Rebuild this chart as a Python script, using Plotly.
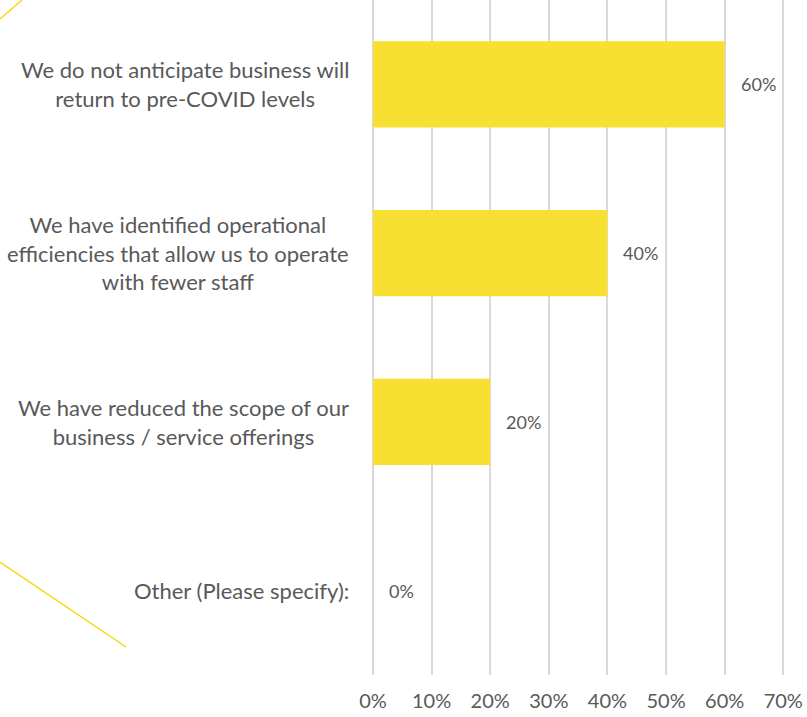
import plotly.graph_objects as go

# Survey responses (share of respondents)
categories = [
    "We do not anticipate business will<br>return to pre-COVID levels",
    "We have identified operational<br>efficiencies that allow us to operate<br>with fewer staff",
    "We have reduced the scope of our<br>business / service offerings",
    "Other (Please specify):",
]
values = [0.60, 0.40, 0.20, 0.00]

W, H = 807, 717
M_L, M_R, M_T, M_B = 373, 12, 0, 42
X_MAX = 0.72
GREY = "#595959"
BAR = "#F8E032"
GRID = "#D9D9D9"
FONT = "Lato"

fig = go.Figure(
    go.Bar(
        x=values,
        y=categories,
        orientation="h",
        marker=dict(color=BAR, line=dict(width=0)),
        hoverinfo="skip",
    )
)

annotations = []
# Category labels: centred text blocks to the left of the plot
for cat in categories:
    annotations.append(dict(
        x=0, xref="paper", xanchor="right", xshift=-22,
        y=cat, yref="y", yanchor="middle",
        text=cat, showarrow=False, align="center",
        font=dict(family=FONT, size=22, color=GREY),
    ))

# Value labels beside bar ends
for cat, v in zip(categories, values):
    annotations.append(dict(
        x=v, xref="x", xanchor="left", xshift=14,
        y=cat, yref="y", yanchor="middle",
        text=f"{v:.0%}", showarrow=False,
        font=dict(family=FONT, size=18, color=GREY),
    ))

pw = W - M_L - M_R
ph = H - M_T - M_B


def px(x, y):
    return (x - M_L) / pw, 1 - (y - M_T) / ph


# Thin decorative accent lines on the left edge
accents = [((0, 19), (22, 0)), ((0, 562), (126, 647))]
shapes = []
for (x0, y0), (x1, y1) in accents:
    a0, b0 = px(x0, y0)
    a1, b1 = px(x1, y1)
    shapes.append(dict(type="line", xref="paper", yref="paper",
                       x0=a0, y0=b0, x1=a1, y1=b1,
                       line=dict(color="#F5D90F", width=1.5)))

fig.update_layout(
    width=W, height=H,
    margin=dict(l=M_L, r=M_R, t=M_T, b=M_B),
    paper_bgcolor="white", plot_bgcolor="white",
    bargap=0.49,
    showlegend=False,
    annotations=annotations,
    shapes=shapes,
    xaxis=dict(
        range=[0, X_MAX], dtick=0.1, tick0=0, tickformat=".0%",
        showgrid=True, gridcolor=GRID, gridwidth=2,
        zeroline=True, zerolinecolor=GRID, zerolinewidth=2,
        showline=False, ticks="",
        ticklabelstandoff=12,
        tickfont=dict(family=FONT, size=20, color=GREY),
    ),
    yaxis=dict(
        categoryorder="array", categoryarray=categories,
        autorange="reversed", showticklabels=False,
        showgrid=False, zeroline=False, showline=False, ticks="",
    ),
)

fig.write_html("out.html")
